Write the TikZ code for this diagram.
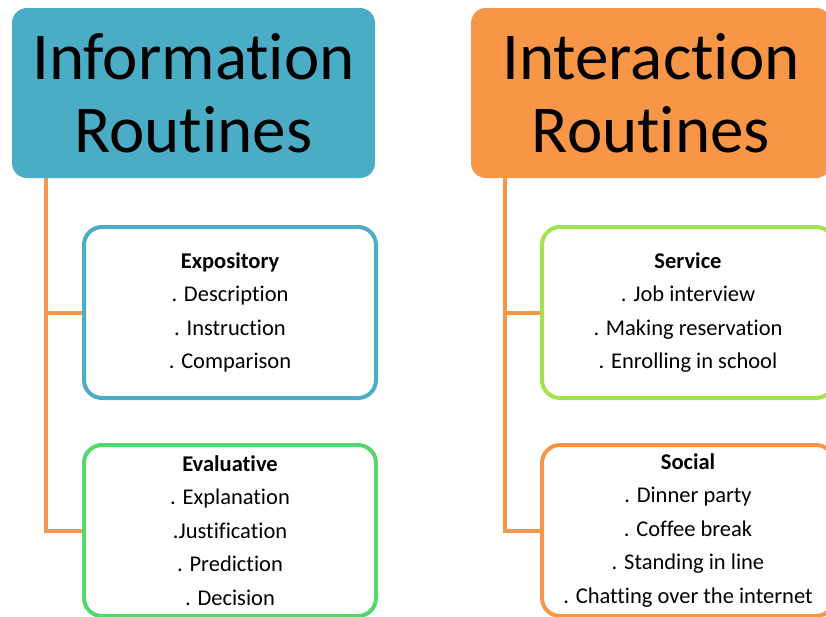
\documentclass[tikz,border=0pt]{standalone}
\usepackage{fontspec}
\setmainfont[RawFeature=-liga]{Carlito}
\definecolor{aqua}{HTML}{4BACC6}
\definecolor{orng}{HTML}{F79646}
\definecolor{grn}{HTML}{52D86C}
\definecolor{lime}{HTML}{A0E34A}
\begin{document}
\begin{tikzpicture}[x=1pt,y=-1pt,
  hdr/.style={rectangle, rounded corners=15pt, inner sep=0pt, minimum width=363pt, minimum height=170pt, align=center, font=\fontsize{67}{73}\selectfont},
  subbox/.style={rectangle, rounded corners=18pt, line width=4pt, fill=white, inner sep=0pt, minimum width=292pt, align=center, font=\fontsize{22.5}{33.5}\selectfont},
  conn/.style={draw=orng, line width=4pt}]
\useasboundingbox (0,0) rectangle (826,616);
\clip (0,0) rectangle (826,616);
\node[hdr, fill=aqua] (hL) at (193.5,93) {Information\\Routines};
\node[hdr, fill=orng, minimum width=360pt] (hR) at (651,93) {Interaction\\Routines};
\coordinate (lx) at (46,0);
\coordinate (rx) at (505,0);
\coordinate (expoc) at (230,312.5);
\coordinate (evalc) at (230,530.5);
\coordinate (servc) at (688,312.5);
\coordinate (socc) at (688,530.5);
% connectors
\draw[conn] (hL.south -| lx) |- (evalc);
\draw[conn] (lx |- expoc) -- (expoc);
\draw[conn] (hR.south -| rx) |- (socc);
\draw[conn] (rx |- servc) -- (servc);
% boxes
\node[subbox, draw=aqua, minimum height=171pt] (expo) at (expoc) {\textbf{Expository}\\. Description\\. Instruction\\. Comparison};
\node[subbox, draw=grn, minimum height=171pt] (eval) at (evalc) {\textbf{Evaluative}\\. Explanation\\.Justification\\. Prediction\\. Decision};
\node[subbox, draw=lime, minimum height=171pt] (serv) at (servc) {\textbf{Service}\\. Job interview\\. Making reservation\\. Enrolling in school};
\node[subbox, draw=orng, minimum height=171pt] (soc) at (socc) {\textbf{Social}\\. Dinner party\\. Coffee break\\. Standing in line\\. Chatting over the internet};
\end{tikzpicture}
\end{document}
